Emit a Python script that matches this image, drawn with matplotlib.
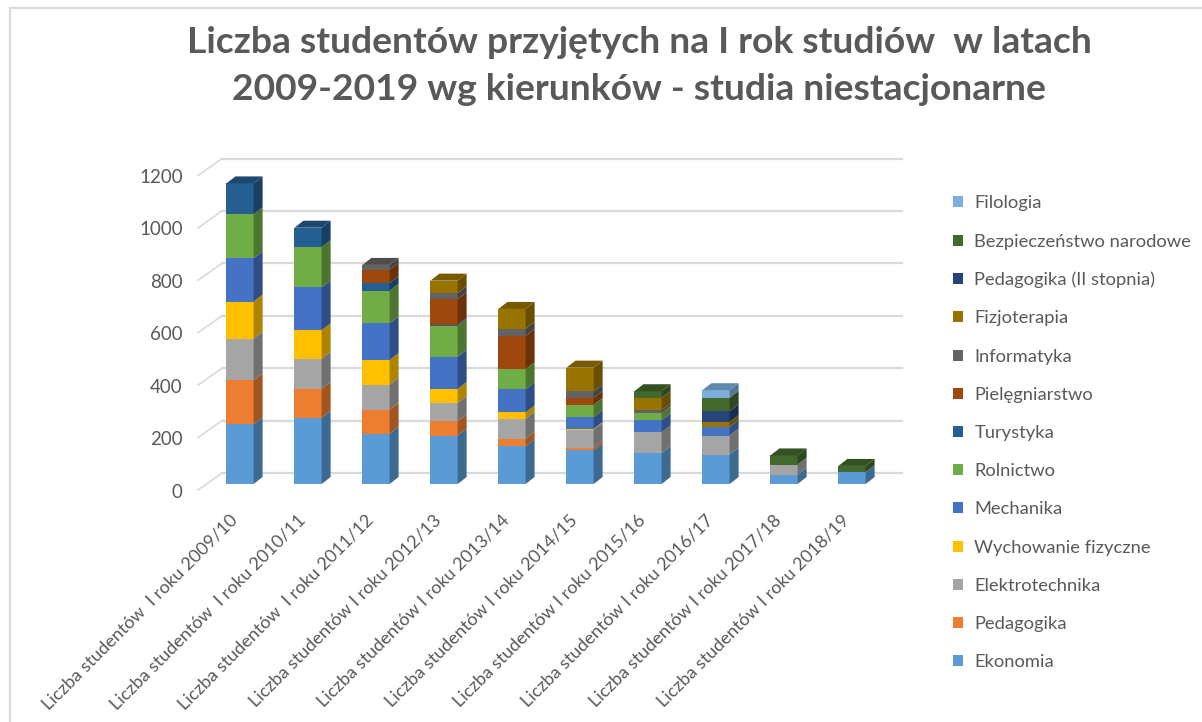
import matplotlib
matplotlib.use('Agg')
import matplotlib.pyplot as plt
from matplotlib.patches import Polygon, Patch
from matplotlib.colors import to_rgb
from matplotlib.lines import Line2D
from matplotlib.transforms import ScaledTranslation
import numpy as np

# Dane
etykiety = ['Liczba studentów  I roku 2009/10', 'Liczba studentów  I roku 2010/11',
            'Liczba studentów  I roku 2011/12', 'Liczba studentów I roku 2012/13',
            'Liczba studentów I roku 2013/14', 'Liczba studentów I roku 2014/15',
            'Liczba studentów I roku 2015/16', 'Liczba studentów I roku 2016/17',
            'Liczba studentów I roku 2017/18', 'Liczba studentów I roku 2018/19']

kierunki = ['Ekonomia', 'Pedagogika', 'Elektrotechnika', 'Wychowanie fizyczne',
            'Mechanika', 'Rolnictwo', 'Turystyka', 'Pielęgniarstwo', 'Informatyka',
            'Fizjoterapia', 'Pedagogika (II stopnia)', 'Bezpieczeństwo narodowe', 'Filologia']

kolory = ['#5B9BD5', '#ED7D31', '#A5A5A5', '#FFC000', '#4472C4', '#70AD47', '#255E91',
          '#9E480E', '#636363', '#997300', '#264478', '#43682B', '#7CAFDD']

ekonomia = [228, 253, 192, 185, 144, 128, 118, 112, 36, 45]
pedagogika = [167, 110, 92, 54, 29, 10, 0, 0, 0, 0]
elektrotechnika = [160, 115, 95, 71, 76, 69, 79, 73, 38, 0]
wf = [141, 109, 94, 53, 24, 3, 0, 0, 0, 0]
mechanika = [165, 163, 140, 123, 88, 45, 46, 33, 0, 0]
rolnictwo = [168, 154, 124, 117, 77, 47, 28, 0, 0, 0]
turystyka = [118, 74, 30, 5, 0, 0, 0, 0, 0, 0]
pielegniarstwo = [0, 0, 51, 97, 128, 27, 0, 0, 0, 0]
informatyka = [0, 0, 18, 24, 26, 24, 10, 0, 0, 0]
fizjoterapia = [0, 0, 0, 47, 76, 91, 47, 18, 0, 0]
pedagogika2 = [0, 0, 0, 0, 0, 0, 0, 42, 0, 0]
bezpieczenstwo = [0, 0, 0, 0, 0, 0, 26, 51, 35, 24]
filologia = [0, 0, 0, 0, 0, 0, 0, 29, 0, 0]

serie = [ekonomia, pedagogika, elektrotechnika, wf, mechanika, rolnictwo, turystyka,
         pielegniarstwo, informatyka, fizjoterapia, pedagogika2, bezpieczenstwo, filologia]

yticks = [0, 200, 400, 600, 800, 1000, 1200]

SZARY = '#595959'
plt.rcParams['font.family'] = ['Lato', 'DejaVu Sans']

W, H = 1202, 722
fig = plt.figure(figsize=(W / 100, H / 100), dpi=100)

# obszar wykresu (w pikselach: lewo 198, dol 484, prawo 882, gora 158)
ax = fig.add_axes([198 / W, (H - 484) / H, (882 - 198) / W, 326 / H])
ax.set_xlim(-0.618, 9.441)
ax.set_ylim(0, 1244)
for s in ax.spines.values():
    s.set_visible(False)

ux = (9.441 + 0.618) / (882 - 198)   # jednostki x na piksel
uy = 1244 / 326                       # jednostki y na piksel

# siatka (sciana tylna + skos)
for v in yticks:
    ax.add_line(Line2D([-0.618, -0.618 + 24 * ux], [v - 6 * uy, v + 11 * uy],
                       color='#D9D9D9', lw=1.2, clip_on=False, zorder=0))
    ax.add_line(Line2D([-0.618 + 24 * ux, -0.618 + 704 * ux], [v + 11 * uy, v + 11 * uy],
                       color='#D9D9D9', lw=1.6, clip_on=False, zorder=0))

x = np.arange(len(etykiety))
szer = 0.40
dx, dy = 9 * ux, 7 * uy


def ciemniej(c, f):
    r, g, b = to_rgb(c)
    return (r * f, g * f, b * f)


dol = np.zeros(len(x))
gora_kolor = [None] * len(x)
for wart, kol in zip(serie, kolory):
    wart = np.array(wart, dtype=float)
    ax.bar(x, wart, szer, bottom=dol, color=kol, zorder=2, linewidth=0)
    for i in range(len(x)):
        if wart[i] <= 0:
            continue
        xr = x[i] + szer / 2
        y0, y1 = dol[i], dol[i] + wart[i]
        ax.add_patch(Polygon([(xr, y0), (xr + dx, y0 + dy), (xr + dx, y1 + dy), (xr, y1)],
                             closed=True, facecolor=ciemniej(kol, 0.68), lw=0, zorder=2))
        gora_kolor[i] = kol
    dol = dol + wart

for i in range(len(x)):
    xl, xr = x[i] - szer / 2, x[i] + szer / 2
    t = dol[i]
    ax.add_patch(Polygon([(xl, t), (xl + dx, t + dy), (xr + dx, t + dy), (xr, t)],
                         closed=True, facecolor=ciemniej(gora_kolor[i], 0.78), lw=0, zorder=3))

# osie
ax.set_yticks(yticks)
ax.set_yticklabels([str(v) for v in yticks], color=SZARY, fontsize=13.5)
ax.tick_params(axis='y', length=0, pad=11)
for lbl in ax.get_yticklabels():
    lbl.set_transform(lbl.get_transform() + ScaledTranslation(0, -0.065, fig.dpi_scale_trans))

ax.set_xticks(x)
ax.set_xticklabels(etykiety, rotation=45, ha='right', va='center',
                   rotation_mode='anchor', color=SZARY, fontsize=13)
ax.tick_params(axis='x', length=0, pad=24)
for lbl in ax.get_xticklabels():
    lbl.set_transform(lbl.get_transform() + ScaledTranslation(-0.05, 0, fig.dpi_scale_trans))

# tytul
fig.text(639 / W, 1 - 66 / H,
         'Liczba studentów przyjętych na I rok studiów  w latach\n'
         '2009-2019 wg kierunków - studia niestacjonarne',
         ha='center', va='center', fontsize=26.8, fontweight='bold', color=SZARY,
         linespacing=1.5)

# legenda
uchwyty = [Patch(facecolor=k, label=n) for n, k in zip(kierunki, kolory)][::-1]
fig.legend(handles=uchwyty, loc='upper left', bbox_to_anchor=(946 / W, 1 - 188 / H),
           frameon=False, fontsize=13.2, labelcolor=SZARY, handlelength=0.55,
           handleheight=0.55, handletextpad=0.6, labelspacing=1.21, borderaxespad=0)

# ramka wykresu
fig.add_artist(Line2D([10 / W, 1], [1 - 8 / H, 1 - 8 / H], color='#D9D9D9', lw=1.5))
fig.add_artist(Line2D([10 / W, 10 / W], [0, 1 - 8 / H], color='#D9D9D9', lw=1.5))

fig.savefig('out.png', dpi=100, facecolor='white')
